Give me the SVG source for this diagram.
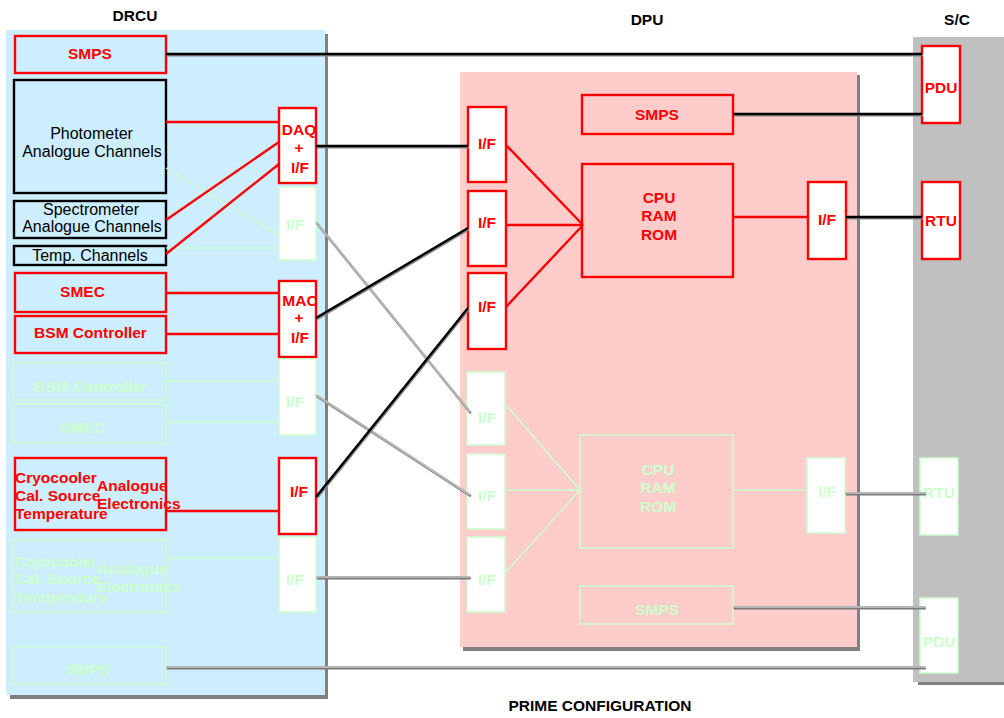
<svg xmlns="http://www.w3.org/2000/svg" xmlns:xlink="http://www.w3.org/1999/xlink" width="1004" height="718" viewBox="0 0 1004 718">
<style>
text{font-family:"Liberation Sans",Arial,Helvetica,sans-serif;font-size:15.5px;font-weight:bold;text-anchor:middle}
.r{fill:#ff0000}
.g{fill:#ccffcc}
.k{fill:#000000;font-weight:normal;font-size:16px}
.ttl{fill:#000000}
.s{text-anchor:start}
.rb{stroke:#ff0000;stroke-width:2.4;fill:none}
.rw{stroke:#ff0000;stroke-width:2.4;fill:#ffffff}
.kb{stroke:#000000;stroke-width:2.4;fill:none}
.gb{stroke:#ccffcc;stroke-width:1.4;fill:none}
.gw{stroke:#ccffcc;stroke-width:1.4;fill:#ffffff}
.shd{fill:#808080}
line{fill:none;stroke-linecap:butt}
</style>

<!-- panels -->
<g id="panel-drcu">
<rect class="shd" x="10" y="34" width="318" height="665"/>
<rect x="6" y="30" width="319" height="665" fill="#cceeff"/>
<text class="ttl" x="135" y="21">DRCU</text>
</g>
<g id="panel-dpu">
<rect class="shd" x="463" y="75" width="397" height="576"/>
<rect x="460" y="72" width="397" height="575" fill="#ffcccc"/>
<text class="ttl" x="647" y="25">DPU</text>
</g>
<g id="panel-sc">
<rect class="shd" x="918" y="41" width="86" height="644"/>
<rect x="913" y="37" width="91" height="645" fill="#c0c0c0"/>
<text class="ttl" x="957" y="25">S/C</text>
</g>

<!-- DRCU nodes -->
<g id="drcu-smps"><rect class="rb" x="15" y="36" width="151" height="37"/><text class="r" x="90" y="59">SMPS</text></g>
<g id="drcu-photometer"><rect class="kb" x="14" y="80" width="152" height="113"/><text class="k" x="91.5" y="139">Photometer</text><text class="k" x="92" y="157">Analogue Channels</text></g>
<g id="drcu-spectrometer"><rect class="kb" x="14" y="201" width="152" height="37"/><text class="k" x="91" y="215">Spectrometer</text><text class="k" x="92" y="232">Analogue Channels</text></g>
<g id="drcu-temp"><rect class="kb" x="14" y="246" width="152" height="19"/><text class="k" x="90" y="261">Temp. Channels</text></g>
<g id="drcu-daq"><rect class="rw" x="279" y="108" width="37" height="75"/><text class="r" x="299" y="135">DAQ</text><text class="r" x="299" y="153">+</text><text class="r" x="300" y="173">I/F</text></g>
<g id="drcu-if-b1"><rect class="gw" x="279" y="187" width="37" height="73"/><text class="g" x="295" y="230">I/F</text></g>
<g id="drcu-smec"><rect class="rb" x="15" y="273" width="151" height="39"/><text class="r" x="82.5" y="297">SMEC</text></g>
<g id="drcu-bsm"><rect class="rb" x="15" y="316" width="151" height="37"/><text class="r" x="90.5" y="338">BSM Controller</text></g>
<g id="drcu-mac"><rect class="rw" x="279" y="281" width="37" height="76"/><text class="r" x="300" y="306">MAC</text><text class="r" x="299" y="323">+</text><text class="r" x="300" y="343">I/F</text></g>
<g id="drcu-bsm-b"><rect class="gb" x="13" y="363" width="153" height="37"/><text class="g" x="90.5" y="392">BSM Controller</text></g>
<g id="drcu-smec-b"><rect class="gb" x="13" y="404" width="153" height="39"/><text class="g" x="82.5" y="433">SMEC</text></g>
<g id="drcu-if-b2"><rect class="gw" x="279" y="359" width="37" height="76"/><text class="g" x="295" y="407">I/F</text></g>
<g id="drcu-cryo"><rect class="rb" x="15" y="458" width="151" height="72"/>
<text class="r s" x="15" y="483">Cryocooler</text><text class="r s" x="15" y="501">Cal. Source</text><text class="r s" x="15" y="519">Temperature</text>
<text class="r s" x="97" y="491">Analogue</text><text class="r s" x="97" y="509">Electronics</text></g>
<g id="drcu-if-cryo"><rect class="rw" x="279" y="458" width="37" height="76"/><text class="r" x="299" y="497">I/F</text></g>
<g id="drcu-cryo-b"><rect class="gb" x="13" y="540" width="153" height="72"/>
<text class="g s" x="15" y="567">Cryocooler</text><text class="g s" x="15" y="584">Cal. Source</text><text class="g s" x="15" y="603">Temperature</text>
<text class="g s" x="97" y="574">Analogue</text><text class="g s" x="97" y="592">Electronics</text></g>
<g id="drcu-if-b3"><rect class="gw" x="279" y="537" width="37" height="75"/><text class="g" x="295" y="585">I/F</text></g>
<g id="drcu-smps-b"><rect class="gb" x="13" y="647" width="153" height="37"/><text class="g" x="88" y="675">SMPS</text></g>

<!-- DPU nodes -->
<g id="dpu-if1"><rect class="rw" x="468" y="107" width="38" height="75"/><text class="r" x="487" y="149">I/F</text></g>
<g id="dpu-if2"><rect class="rw" x="468" y="191" width="38" height="75"/><text class="r" x="487" y="228">I/F</text></g>
<g id="dpu-if3"><rect class="rw" x="468" y="273" width="38" height="76"/><text class="r" x="487" y="312">I/F</text></g>
<g id="dpu-smps"><rect class="rb" x="582" y="95" width="151" height="39"/><text class="r" x="657" y="120">SMPS</text></g>
<g id="dpu-cpu"><rect class="rb" x="582" y="164" width="151" height="113"/><text class="r" x="659" y="203">CPU</text><text class="r" x="659" y="221">RAM</text><text class="r" x="659" y="240">ROM</text></g>
<g id="dpu-ifr"><rect class="rw" x="808" y="182" width="38" height="77"/><text class="r" x="827" y="225">I/F</text></g>
<g id="dpu-if1-b"><rect class="gw" x="467" y="372" width="38" height="73"/><text class="g" x="487" y="423">I/F</text></g>
<g id="dpu-if2-b"><rect class="gw" x="467" y="454" width="38" height="75"/><text class="g" x="487" y="501">I/F</text></g>
<g id="dpu-if3-b"><rect class="gw" x="467" y="537" width="38" height="75"/><text class="g" x="487" y="585">I/F</text></g>
<g id="dpu-cpu-b"><rect class="gb" x="580" y="435" width="153" height="113"/><text class="g" x="658" y="475">CPU</text><text class="g" x="658" y="493">RAM</text><text class="g" x="658" y="512">ROM</text></g>
<g id="dpu-ifr-b"><rect class="gw" x="807" y="458" width="38" height="75"/><text class="g" x="827" y="497">I/F</text></g>
<g id="dpu-smps-b"><rect class="gb" x="580" y="586" width="153" height="38"/><text class="g" x="657" y="615">SMPS</text></g>

<!-- S/C nodes -->
<g id="sc-pdu"><rect class="rw" x="922" y="46" width="38" height="77"/><text class="r" x="941" y="93">PDU</text></g>
<g id="sc-rtu"><rect class="rw" x="922" y="182" width="38" height="77"/><text class="r" x="941" y="226">RTU</text></g>
<g id="sc-rtu-b"><rect class="gw" x="920" y="458" width="38" height="77"/><text class="g" x="939" y="498">RTU</text></g>
<g id="sc-pdu-b"><rect class="gw" x="920" y="598" width="38" height="75"/><text class="g" x="939" y="647">PDU</text></g>

<!-- connectors -->
<g id="connectors">
<g id="faint-links" stroke="#ccffcc" stroke-width="1.4">
<line x1="166" y1="168" x2="279" y2="235"/>
<line x1="166" y1="248" x2="279" y2="248"/>
<line x1="166" y1="381" x2="279" y2="381"/>
<line x1="166" y1="422" x2="279" y2="422"/>
<line x1="166" y1="558" x2="279" y2="558"/>
<line x1="505" y1="404" x2="580" y2="490"/>
<line x1="505" y1="490" x2="580" y2="490"/>
<line x1="505" y1="573" x2="580" y2="490"/>
<line x1="733" y1="490" x2="807" y2="490"/>
</g>
<g id="red-links" stroke="#ff0000" stroke-width="2.4">
<line x1="166" y1="122" x2="279" y2="122"/>
<line x1="166" y1="220" x2="279" y2="142"/>
<line x1="166" y1="254" x2="279" y2="164"/>
<line x1="166" y1="293" x2="279" y2="293"/>
<line x1="166" y1="334" x2="279" y2="334"/>
<line x1="166" y1="511" x2="279" y2="511"/>
<line x1="506" y1="145" x2="583" y2="225"/>
<line x1="506" y1="225" x2="583" y2="225"/>
<line x1="506" y1="307" x2="583" y2="225"/>
<line x1="733" y1="217" x2="808" y2="217"/>
</g>
<use xlink:href="#gray-set" href="#gray-set" stroke="#7a7a7a" stroke-width="2.4" transform="translate(0.8,1.2)"/>
<g stroke="#b4b4b4" stroke-width="2.2">
<g id="gray-set">
<line x1="316" y1="222" x2="470" y2="412"/>
<line x1="316" y1="395" x2="470" y2="495"/>
<line x1="316" y1="577" x2="470" y2="577"/>
<line x1="166" y1="667" x2="925" y2="667"/>
<line x1="845" y1="493" x2="925" y2="493"/>
<line x1="733" y1="607" x2="925" y2="607"/>
</g>
</g>
<use xlink:href="#black-set" href="#black-set" stroke="#8a8a8a" stroke-width="2.4" transform="translate(0.8,1.3)"/>
<g stroke="#000000" stroke-width="2.4">
<g id="black-set">
<line x1="166" y1="54" x2="922" y2="54"/>
<line x1="316" y1="146" x2="468" y2="146"/>
<line x1="316" y1="318" x2="468" y2="228"/>
<line x1="316" y1="497" x2="468" y2="308"/>
<line x1="733" y1="114" x2="922" y2="114"/>
<line x1="846" y1="217" x2="922" y2="217"/>
</g>
</g>
</g>

<text class="ttl" x="600" y="711">PRIME CONFIGURATION</text>
</svg>
